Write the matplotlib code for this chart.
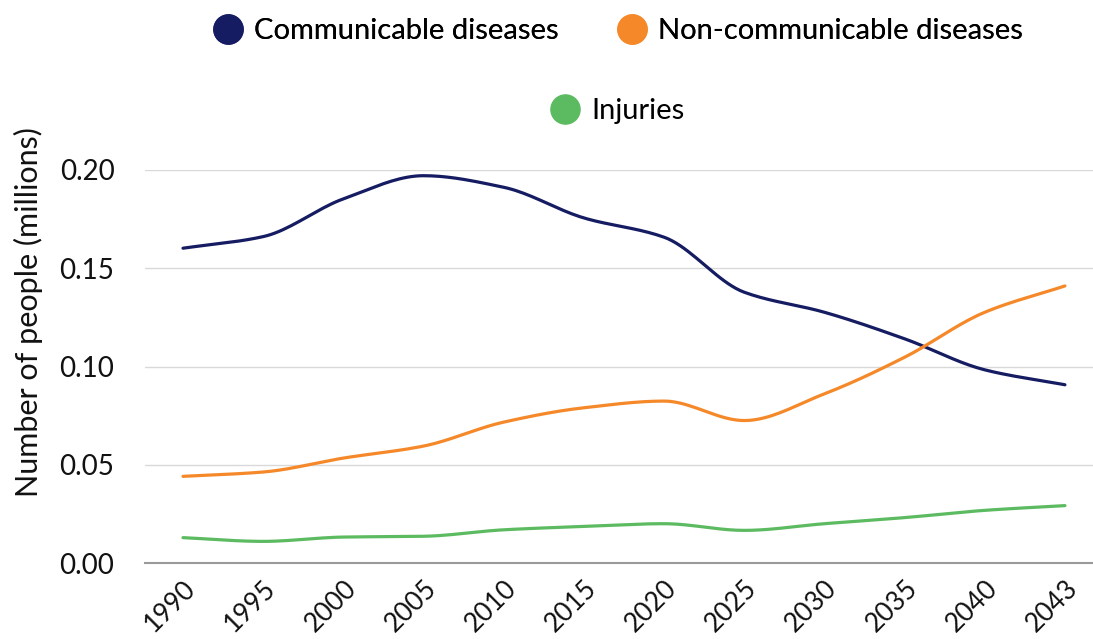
import numpy as np
import matplotlib
matplotlib.use('Agg')
import matplotlib.pyplot as plt
from matplotlib.lines import Line2D

plt.rcParams['font.family'] = ['Lato', 'DejaVu Sans']

# Data
years = ['1990', '1995', '2000', '2005', '2010', '2015', '2020', '2025', '2030', '2035', '2040', '2043']
communicable = [0.1602, 0.1661, 0.1853, 0.1971, 0.1912, 0.1756, 0.1658, 0.1378, 0.1276, 0.1141, 0.0983, 0.0907]
non_communicable = [0.0441, 0.0463, 0.0534, 0.0595, 0.0717, 0.0790, 0.0824, 0.0725, 0.0861, 0.1047, 0.1276, 0.1410]
injuries = [0.0129, 0.0110, 0.0132, 0.0136, 0.0169, 0.0186, 0.0200, 0.0166, 0.0200, 0.0231, 0.0268, 0.0292]

names = ['Communicable diseases', 'Non-communicable diseases', 'Injuries']
colors = ['#151c62', '#f5892a', '#5cbb60']


def monotone_curve(x, y, n=20):
    # monotone cubic (Fritsch-Carlson) so the line is smooth like the original
    x = np.asarray(x, float)
    y = np.asarray(y, float)
    h = np.diff(x)
    d = np.diff(y) / h
    m = np.zeros_like(y)
    m[0], m[-1] = d[0], d[-1]
    for i in range(1, len(y) - 1):
        if d[i - 1] * d[i] > 0:
            w1 = 2 * h[i] + h[i - 1]
            w2 = h[i] + 2 * h[i - 1]
            m[i] = (w1 + w2) / (w1 / d[i - 1] + w2 / d[i])
    xs, ys = [], []
    for i in range(len(x) - 1):
        t = np.linspace(0, 1, n, endpoint=(i == len(x) - 2))
        h00 = 2 * t**3 - 3 * t**2 + 1
        h10 = t**3 - 2 * t**2 + t
        h01 = -2 * t**3 + 3 * t**2
        h11 = t**3 - t**2
        xs.append(x[i] + t * h[i])
        ys.append(h00 * y[i] + h10 * h[i] * m[i] + h01 * y[i + 1] + h11 * h[i] * m[i + 1])
    return np.concatenate(xs), np.concatenate(ys)


fig = plt.figure(figsize=(10.93, 6.39), dpi=100)
ax = fig.add_axes([145 / 1093, 76 / 639, 948 / 1093, 393 / 639])

pos = np.arange(len(years))
for vals, c in zip([communicable, non_communicable, injuries], colors):
    xs, ys = monotone_curve(pos, vals)
    ax.plot(xs, ys, color=c, linewidth=2.3, solid_capstyle='round')

ax.set_xlim(-0.474, 11.35)
ax.set_ylim(0, 0.2)
ax.set_yticks([0, 0.05, 0.10, 0.15, 0.20])
ax.set_yticklabels(['0.00', '0.05', '0.10', '0.15', '0.20'])
ax.set_xticks(pos)
ax.set_xticklabels(years, rotation=45, ha='right', va='top', rotation_mode='anchor')
ax.tick_params(axis='both', length=0, labelsize=20, colors='#111111')
ax.tick_params(axis='x', labelsize=19, pad=9)
ax.tick_params(axis='y', pad=22)
ax.grid(axis='y', color='#d9d9d9', linewidth=1)
ax.set_axisbelow(True)
for s in ['top', 'right', 'left']:
    ax.spines[s].set_visible(False)
ax.spines['bottom'].set_color('#9a9a9a')
ax.spines['bottom'].set_linewidth(1.5)
ax.set_ylabel('Number of people (millions)', fontsize=22, color='#111111')
ax.yaxis.set_label_coords(-0.108, 0.639)

handles = [Line2D([], [], linestyle='none', marker='o', markersize=21,
                  markerfacecolor=c, markeredgecolor=c) for c in colors]
leg1 = fig.legend(handles[:2], names[:2], loc='center', bbox_to_anchor=(0.564, 0.951),
                  ncol=2, frameon=False, fontsize=21, handletextpad=0.3,
                  columnspacing=1.9, handlelength=1.2)
fig.add_artist(leg1)
fig.legend(handles[2:], names[2:], loc='center', bbox_to_anchor=(0.564, 0.826),
           frameon=False, fontsize=21, handletextpad=0.3, handlelength=1.2)

fig.savefig('out.png', dpi=100)
